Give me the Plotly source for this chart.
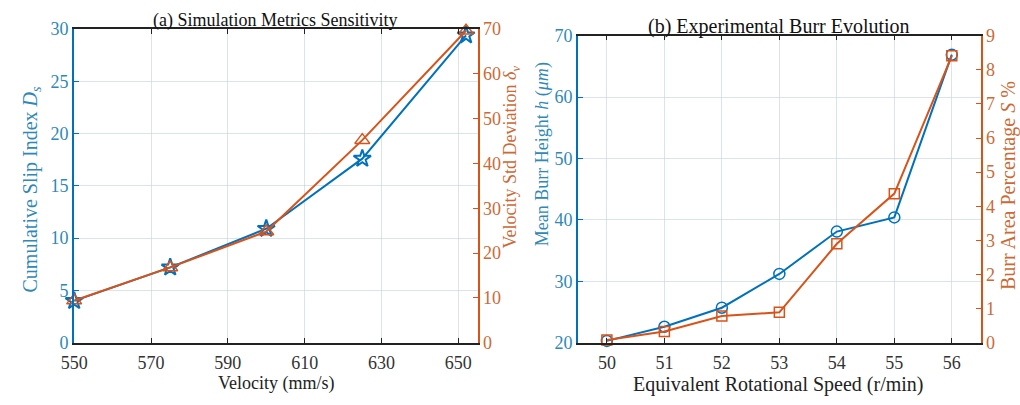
import plotly.graph_objects as go

# ---- data (a) ----
vel = [550, 575, 600, 625, 652]
slip_index = [4.0, 7.2, 10.9, 17.6, 29.4]
vel_std = [9.4, 16.8, 24.8, 45.2, 69.6]
vel_ticks = [550, 570, 590, 610, 630, 650]

# ---- data (b) ----
speed = [50, 51, 52, 53, 54, 55, 56]
burr_height = [20.3, 22.6, 25.7, 31.2, 38.1, 40.4, 66.9]
burr_area = [0.08, 0.33, 0.78, 0.89, 2.9, 4.37, 8.41]
speed_ticks = [50, 51, 52, 53, 54, 55, 56]

BLUE = "#0072BD"
ORANGE = "#D95319"
BLUE_T = "#2f89b6"
ORANGE_T = "#cc6a36"
GRID = "rgba(190,205,222,0.55)"
FONT = "Liberation Serif"

fig = go.Figure()
fig.add_trace(go.Scatter(x=vel, y=slip_index, mode="lines+markers", xaxis="x", yaxis="y",
                         line=dict(color=BLUE, width=2),
                         marker=dict(symbol="star-open", size=13, color=BLUE, line=dict(width=2)),
                         cliponaxis=False, showlegend=False))
fig.add_trace(go.Scatter(x=vel, y=vel_std, mode="lines+markers", xaxis="x", yaxis="y2",
                         line=dict(color=ORANGE, width=2),
                         marker=dict(symbol="triangle-up-open", size=13, color=ORANGE, line=dict(width=1.5)),
                         cliponaxis=False, showlegend=False))
fig.add_trace(go.Scatter(x=speed, y=burr_height, mode="lines+markers", xaxis="x2", yaxis="y3",
                         line=dict(color=BLUE, width=2),
                         marker=dict(symbol="circle-open", size=11, color=BLUE, line=dict(width=1.5)),
                         cliponaxis=False, showlegend=False))
fig.add_trace(go.Scatter(x=speed, y=burr_area, mode="lines+markers", xaxis="x2", yaxis="y4",
                         line=dict(color=ORANGE, width=2),
                         marker=dict(symbol="square-open", size=10, color=ORANGE, line=dict(width=1.5)),
                         cliponaxis=False, showlegend=False))

W, H = 1020, 405
dxa = [61 / W, 470 / W]
dxb = [572 / W, 980 / W]
dya = [1 - 350 / H, 1 - 20 / H]
dyb = [1 - 350 / H, 1 - 27 / H]


def px(x):
    return x / W


def py(y):
    return 1 - y / H


tickfont = dict(family=FONT, size=18, color="#333333")

common_x = dict(showline=True, linecolor="#222222", linewidth=1.5, mirror="ticks",
                ticks="inside", ticklen=5, tickcolor="#222222", ticklabelstandoff=3,
                showgrid=True, gridcolor=GRID, gridwidth=1, zeroline=False,
                tickfont=tickfont)


def yax(dom, rng, vals, color, tcolor, lw, **kw):
    return dict(domain=dom, range=rng, tickvals=vals, showline=True, linecolor=color, linewidth=lw,
                ticks="inside", ticklen=5, tickcolor=color, zeroline=False,
                tickfont=dict(family=FONT, size=18, color=tcolor), **kw)


def ann(text, x, y, size, color, angle=0):
    return dict(text=text, x=px(x), y=py(y), xref="paper", yref="paper",
                xanchor="center", yanchor="middle", showarrow=False, textangle=angle,
                font=dict(family=FONT, size=size, color=color))


fig.update_layout(
    width=W, height=H,
    margin=dict(l=0, r=0, t=0, b=0),
    paper_bgcolor="white", plot_bgcolor="white",
    font=dict(family=FONT),
    xaxis=dict(domain=dxa, range=[550, 655], tickvals=vel_ticks, anchor="y", **common_x),
    xaxis2=dict(domain=dxb, range=[49.5, 56.5], tickvals=speed_ticks, anchor="y3", **common_x),
    yaxis=yax(dya, [0, 30], [0, 5, 10, 15, 20, 25, 30], BLUE, BLUE_T, 2,
              anchor="x", showgrid=True, gridcolor=GRID),
    yaxis2=yax(dya, [0, 70], [0, 10, 20, 30, 40, 50, 60, 70], ORANGE, ORANGE_T, 1.5,
               overlaying="y", side="right", anchor="x", showgrid=False),
    yaxis3=yax(dyb, [20, 70], [20, 30, 40, 50, 60, 70], BLUE, BLUE_T, 2,
               anchor="x2", showgrid=True, gridcolor=GRID),
    yaxis4=yax(dyb, [0, 9], list(range(10)), ORANGE, ORANGE_T, 1.5,
               overlaying="y3", side="right", anchor="x2", showgrid=False),
    annotations=[
        ann("(a) Simulation Metrics Sensitivity", 265, 11, 18, "#111111"),
        ann("(b) Experimental Burr Evolution", 776, 17, 20, "#111111"),
        ann("Velocity (mm/s)", 266, 393, 18, "#222222"),
        ann("Equivalent Rotational Speed (r/min)", 775, 394, 20, "#222222"),
        ann("Cumulative Slip Index <i>D</i><sub><i>s</i></sub>", 18, 188, 20, BLUE_T, -90),
        ann("Velocity Std Deviation <i>δ</i><sub><i>v</i></sub>", 504, 155, 18, ORANGE_T, -90),
        ann("Mean Burr Height <i>h</i> (<i>μm</i>)", 536, 152, 18, BLUE_T, -90),
        ann("Burr Area Percentage <i>S</i> %", 1009, 185, 20, ORANGE_T, -90),
    ],
)

fig.write_html("out.html")
